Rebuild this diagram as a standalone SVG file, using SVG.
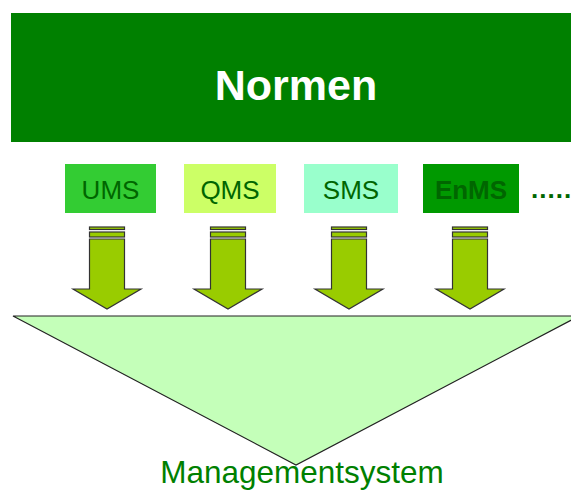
<svg xmlns="http://www.w3.org/2000/svg" width="571" height="492" viewBox="0 0 571 492">
<style>
.lbl{font-family:"Liberation Sans",Arial,sans-serif;font-size:26px;fill:#006600;text-anchor:middle}
.arr{fill:#99CC00;stroke:#333333;stroke-width:1.2}
</style>
<defs>
<g id="arrow">
<rect class="arr" x="-17.5" y="227" width="35" height="2.5"/>
<rect class="arr" x="-17.5" y="232" width="35" height="5"/>
<path class="arr" d="M-17.5 239 H17.5 V289 H34 L0 309 L-34 289 H-17.5 Z"/>
</g>
</defs>
<rect width="571" height="492" fill="#ffffff"/>
<g id="normen">
<rect x="11" y="13" width="560" height="129" fill="#008000"/>
<text x="296" y="100" font-family="Liberation Sans,Arial,sans-serif" font-size="43" font-weight="bold" fill="#ffffff" text-anchor="middle">Normen</text>
</g>
<g id="ums">
<rect x="65" y="164" width="91" height="49" fill="#33CC33"/>
<text class="lbl" x="110.5" y="199">UMS</text>
</g>
<g id="qms">
<rect x="184" y="164" width="92" height="49" fill="#CCFF66"/>
<text class="lbl" x="230" y="199">QMS</text>
</g>
<g id="sms">
<rect x="304" y="164" width="94" height="49" fill="#99FFCC"/>
<text class="lbl" x="351" y="199">SMS</text>
</g>
<g id="enms">
<rect x="423" y="164" width="96" height="49" fill="#009900"/>
<text class="lbl" x="471" y="199" font-weight="bold">EnMS</text>
</g>
<g id="dots">
<text x="531" y="198" font-family="Liberation Sans,Arial,sans-serif" font-size="26" font-weight="bold" fill="#006600" letter-spacing="1">.....</text>
</g>
<g id="connectors">
<use href="#arrow" x="107"/>
<use href="#arrow" x="228"/>
<use href="#arrow" x="349"/>
<use href="#arrow" x="470"/>
</g>
<g id="managementsystem">
<polygon points="13,316 579,316 296,465" fill="#C4FFB9" stroke="#222222" stroke-width="1.2"/>
<text x="302" y="483" font-family="Liberation Sans,Arial,sans-serif" font-size="31.5" fill="#008000" text-anchor="middle">Managementsystem</text>
</g>
</svg>
